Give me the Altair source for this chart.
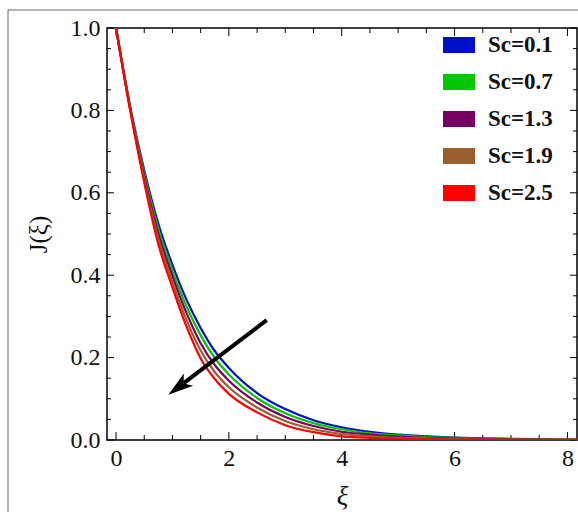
import altair as alt
import pandas as pd

# ---- data ----
xi = [0, 0.25, 0.5, 0.75, 1, 1.25, 1.5, 1.75, 2, 2.5, 3, 3.5, 4, 4.5, 5, 5.5, 6, 6.5, 7, 7.5, 8, 8.2]
J_sc01 = [1.0, 0.810, 0.655, 0.525, 0.425, 0.340, 0.272, 0.216, 0.175, 0.114, 0.075, 0.048, 0.031, 0.020, 0.013, 0.009, 0.006, 0.004, 0.003, 0.002, 0.001, 0.001]
J_sc07 = [1.0, 0.808, 0.648, 0.512, 0.411, 0.324, 0.254, 0.199, 0.159, 0.102, 0.065, 0.041, 0.026, 0.016, 0.011, 0.007, 0.005, 0.003, 0.002, 0.0015, 0.0008, 0.0008]
J_sc13 = [1.0, 0.805, 0.640, 0.500, 0.398, 0.308, 0.235, 0.182, 0.144, 0.091, 0.056, 0.034, 0.020, 0.013, 0.008, 0.0055, 0.0035, 0.002, 0.0015, 0.001, 0.0005, 0.0005]
J_sc19 = [1.0, 0.803, 0.633, 0.488, 0.384, 0.291, 0.217, 0.165, 0.128, 0.079, 0.046, 0.026, 0.015, 0.009, 0.005, 0.004, 0.002, 0.001, 0.0008, 0.0006, 0.0003, 0.0003]
J_sc25 = [1.0, 0.800, 0.625, 0.475, 0.370, 0.275, 0.198, 0.148, 0.112, 0.067, 0.036, 0.019, 0.009, 0.005, 0.003, 0.002, 0.001, 0.0005, 0.0003, 0.0002, 0.0001, 0.0001]
series_names = ["Sc=0.1", "Sc=0.7", "Sc=1.3", "Sc=1.9", "Sc=2.5"]
series_colors = ["#0010C8", "#00C800", "#780064", "#9A5E2E", "#FF0000"]

x_major = [0, 2, 4, 6, 8]
x_minor = [0.5, 1, 1.5, 2.5, 3, 3.5, 4.5, 5, 5.5, 6.5, 7, 7.5]
y_major = [0.0, 0.2, 0.4, 0.6, 0.8, 1.0]
y_minor = [0.05, 0.1, 0.15, 0.25, 0.3, 0.35, 0.45, 0.5, 0.55, 0.65, 0.7, 0.75, 0.85, 0.9, 0.95]

arrow_x = [2.67, 1.20]
arrow_y = [0.291, 0.138]
head_x = [1.126]
head_y = [0.130]

# ---- tables ----
rows = []
for name, vals in zip(series_names, [J_sc01, J_sc07, J_sc13, J_sc19, J_sc25]):
    for a, b in zip(xi, vals):
        rows.append({"xi": a, "J": b, "series": name})
df = pd.DataFrame(rows)

W, H = 470, 412
FONT = "Liberation Serif, Times New Roman, DejaVu Serif, serif"
xs = alt.Scale(domain=[-0.16, 8.17], nice=False, zero=False)
ys = alt.Scale(domain=[0, 1], nice=False, zero=False)
cscale = alt.Scale(domain=series_names, range=series_colors)

# legend driver: filled swatches (the marks themselves sit outside the clipped view)
legend_layer = alt.Chart(pd.DataFrame({"series": series_names})).mark_square(
    filled=True, clip=True, strokeWidth=0
).encode(
    x=alt.value(-60), y=alt.value(-60),
    color=alt.Color("series:N", scale=cscale, legend=alt.Legend(
        title=None, orient="none", legendX=336, legendY=1, padding=0,
        symbolType="M-1,-0.5H1V0.5H-1Z", symbolSize=1024, symbolStrokeWidth=0,
        symbolOpacity=1, labelFont=FONT, labelFontWeight="bold", labelFontSize=23,
        labelColor="#111", labelOffset=13, rowPadding=9, labelLimit=200,
    )),
)

curves = alt.Chart(df).mark_line(strokeWidth=2.2, interpolate="monotone", clip=True).encode(
    x=alt.X("xi:Q", scale=xs, axis=alt.Axis(
        values=x_major, format=".0f", title="ξ", ticks=False, domain=False, grid=False,
        labelFont=FONT, labelFontSize=24, labelColor="#111", labelPadding=6,
        titleFont=FONT, titleFontStyle="italic", titleFontWeight="normal",
        titleFontSize=27, titleColor="#111", titleBaseline="alphabetic", titleY=64,
    )),
    y=alt.Y("J:Q", scale=ys, axis=alt.Axis(
        values=y_major, format=".1f", title="J(ξ)", ticks=False, domain=False, grid=False,
        labelFont=FONT, labelFontSize=24, labelColor="#111", labelPadding=7,
        titleFont=FONT, titleFontWeight="normal", titleFontSize=25, titleColor="#111",
        titleX=-69, titleY=206, titleAlign="center", titleBaseline="middle", titleAngle=270,
    )),
    color=alt.Color("series:N", scale=cscale, legend=None),
    order=alt.Order("xi:Q"),
)

def xticks(vals, length):
    d = pd.DataFrame({"t": vals})
    b = alt.Chart(d).mark_rule(color="black", strokeWidth=1).encode(
        x=alt.X("t:Q", scale=xs), y=alt.value(H), y2=alt.value(H - length))
    t = alt.Chart(d).mark_rule(color="black", strokeWidth=1).encode(
        x=alt.X("t:Q", scale=xs), y=alt.value(0), y2=alt.value(length))
    return b + t

def yticks(vals, length):
    d = pd.DataFrame({"t": vals})
    l = alt.Chart(d).mark_rule(color="black", strokeWidth=1).encode(
        y=alt.Y("t:Q", scale=ys), x=alt.value(0), x2=alt.value(length))
    r = alt.Chart(d).mark_rule(color="black", strokeWidth=1).encode(
        y=alt.Y("t:Q", scale=ys), x=alt.value(W), x2=alt.value(W - length))
    return l + r

ticks = xticks(x_major, 8) + xticks(x_minor, 5) + yticks(y_major, 7) + yticks(y_minor, 4)

arrow_df = pd.DataFrame({"ax": arrow_x, "ay": arrow_y})
shaft = alt.Chart(arrow_df).mark_line(color="black", strokeWidth=4).encode(
    x=alt.X("ax:Q", scale=xs), y=alt.Y("ay:Q", scale=ys))
head_df = pd.DataFrame({"hx": head_x, "hy": head_y})
head = alt.Chart(head_df).mark_point(
    shape="M0,-1L0.55,0.8L0,0.35L-0.55,0.8Z", size=784, angle=233,
    filled=True, color="black", opacity=1, strokeWidth=0,
).encode(x=alt.X("hx:Q", scale=xs), y=alt.Y("hy:Q", scale=ys))

frame = alt.Chart(pd.DataFrame({"k": [0]})).mark_rect(
    fill=None, stroke="#666", strokeWidth=1, fillOpacity=0
).encode(x=alt.value(-99), x2=alt.value(W + 60), y=alt.value(-18), y2=alt.value(H + 120))

chart = alt.layer(frame, ticks, legend_layer, curves, shaft, head).properties(
    width=W, height=H,
    autosize=alt.AutoSizeParams(type="none"),
    padding={"left": 107, "top": 28, "right": 1, "bottom": 72},
    background="white",
).configure_view(stroke="black", strokeWidth=1.5)

chart.save("out.html", embed_options={"renderer": "svg", "actions": False})
